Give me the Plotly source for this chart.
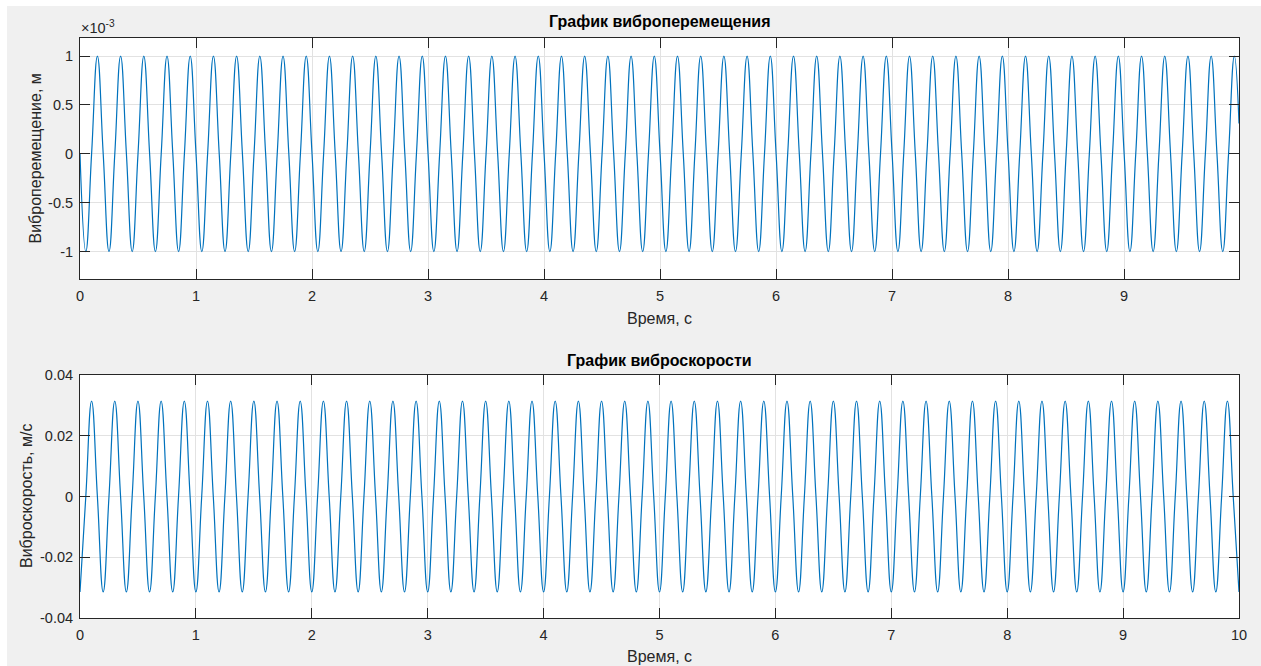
import plotly.graph_objects as go

# ---------------- data ----------------
# key sample instants: zero crossings and extrema, every 0.05 s
time_s = [
    0.00, 0.05, 0.10, 0.15, 0.20, 0.25, 0.30, 0.35, 0.40, 0.45, 0.50, 0.55, 0.60, 0.65, 0.70, 0.75, 0.80, 0.85, 0.90, 0.95,
    1.00, 1.05, 1.10, 1.15, 1.20, 1.25, 1.30, 1.35, 1.40, 1.45, 1.50, 1.55, 1.60, 1.65, 1.70, 1.75, 1.80, 1.85, 1.90, 1.95,
    2.00, 2.05, 2.10, 2.15, 2.20, 2.25, 2.30, 2.35, 2.40, 2.45, 2.50, 2.55, 2.60, 2.65, 2.70, 2.75, 2.80, 2.85, 2.90, 2.95,
    3.00, 3.05, 3.10, 3.15, 3.20, 3.25, 3.30, 3.35, 3.40, 3.45, 3.50, 3.55, 3.60, 3.65, 3.70, 3.75, 3.80, 3.85, 3.90, 3.95,
    4.00, 4.05, 4.10, 4.15, 4.20, 4.25, 4.30, 4.35, 4.40, 4.45, 4.50, 4.55, 4.60, 4.65, 4.70, 4.75, 4.80, 4.85, 4.90, 4.95,
    5.00, 5.05, 5.10, 5.15, 5.20, 5.25, 5.30, 5.35, 5.40, 5.45, 5.50, 5.55, 5.60, 5.65, 5.70, 5.75, 5.80, 5.85, 5.90, 5.95,
    6.00, 6.05, 6.10, 6.15, 6.20, 6.25, 6.30, 6.35, 6.40, 6.45, 6.50, 6.55, 6.60, 6.65, 6.70, 6.75, 6.80, 6.85, 6.90, 6.95,
    7.00, 7.05, 7.10, 7.15, 7.20, 7.25, 7.30, 7.35, 7.40, 7.45, 7.50, 7.55, 7.60, 7.65, 7.70, 7.75, 7.80, 7.85, 7.90, 7.95,
    8.00, 8.05, 8.10, 8.15, 8.20, 8.25, 8.30, 8.35, 8.40, 8.45, 8.50, 8.55, 8.60, 8.65, 8.70, 8.75, 8.80, 8.85, 8.90, 8.95,
    9.00, 9.05, 9.10, 9.15, 9.20, 9.25, 9.30, 9.35, 9.40, 9.45, 9.50, 9.55, 9.60, 9.65, 9.70, 9.75, 9.80, 9.85, 9.90, 9.95,
]

# displacement, in units of 1e-3 m
disp_e3 = [
    0, -1, 0, 1, 0, -1, 0, 1, 0, -1, 0, 1, 0, -1, 0, 1, 0, -1, 0, 1,
    0, -1, 0, 1, 0, -1, 0, 1, 0, -1, 0, 1, 0, -1, 0, 1, 0, -1, 0, 1,
    0, -1, 0, 1, 0, -1, 0, 1, 0, -1, 0, 1, 0, -1, 0, 1, 0, -1, 0, 1,
    0, -1, 0, 1, 0, -1, 0, 1, 0, -1, 0, 1, 0, -1, 0, 1, 0, -1, 0, 1,
    0, -1, 0, 1, 0, -1, 0, 1, 0, -1, 0, 1, 0, -1, 0, 1, 0, -1, 0, 1,
    0, -1, 0, 1, 0, -1, 0, 1, 0, -1, 0, 1, 0, -1, 0, 1, 0, -1, 0, 1,
    0, -1, 0, 1, 0, -1, 0, 1, 0, -1, 0, 1, 0, -1, 0, 1, 0, -1, 0, 1,
    0, -1, 0, 1, 0, -1, 0, 1, 0, -1, 0, 1, 0, -1, 0, 1, 0, -1, 0, 1,
    0, -1, 0, 1, 0, -1, 0, 1, 0, -1, 0, 1, 0, -1, 0, 1, 0, -1, 0, 1,
    0, -1, 0, 1, 0, -1, 0, 1, 0, -1, 0, 1, 0, -1, 0, 1, 0, -1, 0, 1,
]
disp_last_t = 9.99
disp_last_v = 0.31

# velocity, m/s
vel_ms = [
    -0.0314, 0, 0.0314, 0, -0.0314, 0, 0.0314, 0, -0.0314, 0, 0.0314, 0, -0.0314, 0, 0.0314, 0, -0.0314, 0, 0.0314, 0,
    -0.0314, 0, 0.0314, 0, -0.0314, 0, 0.0314, 0, -0.0314, 0, 0.0314, 0, -0.0314, 0, 0.0314, 0, -0.0314, 0, 0.0314, 0,
    -0.0314, 0, 0.0314, 0, -0.0314, 0, 0.0314, 0, -0.0314, 0, 0.0314, 0, -0.0314, 0, 0.0314, 0, -0.0314, 0, 0.0314, 0,
    -0.0314, 0, 0.0314, 0, -0.0314, 0, 0.0314, 0, -0.0314, 0, 0.0314, 0, -0.0314, 0, 0.0314, 0, -0.0314, 0, 0.0314, 0,
    -0.0314, 0, 0.0314, 0, -0.0314, 0, 0.0314, 0, -0.0314, 0, 0.0314, 0, -0.0314, 0, 0.0314, 0, -0.0314, 0, 0.0314, 0,
    -0.0314, 0, 0.0314, 0, -0.0314, 0, 0.0314, 0, -0.0314, 0, 0.0314, 0, -0.0314, 0, 0.0314, 0, -0.0314, 0, 0.0314, 0,
    -0.0314, 0, 0.0314, 0, -0.0314, 0, 0.0314, 0, -0.0314, 0, 0.0314, 0, -0.0314, 0, 0.0314, 0, -0.0314, 0, 0.0314, 0,
    -0.0314, 0, 0.0314, 0, -0.0314, 0, 0.0314, 0, -0.0314, 0, 0.0314, 0, -0.0314, 0, 0.0314, 0, -0.0314, 0, 0.0314, 0,
    -0.0314, 0, 0.0314, 0, -0.0314, 0, 0.0314, 0, -0.0314, 0, 0.0314, 0, -0.0314, 0, 0.0314, 0, -0.0314, 0, 0.0314, 0,
    -0.0314, 0, 0.0314, 0, -0.0314, 0, 0.0314, 0, -0.0314, 0, 0.0314, 0, -0.0314, 0, 0.0314, 0, -0.0314, 0, 0.0314, 0,
]
vel_last_t = 10.0
vel_last_v = -0.0314

x_ticks_top = [0, 1, 2, 3, 4, 5, 6, 7, 8, 9]
x_ticks_bot = [0, 1, 2, 3, 4, 5, 6, 7, 8, 9, 10]
y_ticks_top = [-1, -0.5, 0, 0.5, 1]
y_ticks_top_text = ["-1", "-0.5", "0", "0.5", "1"]
y_ticks_bot = [-0.04, -0.02, 0, 0.02, 0.04]
y_ticks_bot_text = ["-0.04", "-0.02", "0", "0.02", "0.04"]

title_top = "График виброперемещения"
title_bot = "График виброскорости"
xlabel = "Время, с"
ylabel_top = "Виброперемещение, м"
ylabel_bot = "Виброскорость, м/с"

# ---------------- layout geometry ----------------
W, H = 1261, 666
L, R, T, B = 80, 22, 38, 48
PW, PH = W - L - R, H - T - B


def px(x):
    return (x - L) / PW


def py(y):
    return (H - B - y) / PH


FONT = "Liberation Sans, Arial, Helvetica, sans-serif"
TXT = "#262626"
LINE = "#0072BD"
GRID = "#e2e2e2"
TICK_SIZE = 14.5
LABEL_SIZE = 16
TITLE_SIZE = 16

fig = go.Figure()
fig.add_trace(go.Scatter(
    x=time_s + [disp_last_t], y=disp_e3 + [disp_last_v],
    mode="lines", line=dict(color=LINE, width=1.2, shape="spline", smoothing=1.3),
    xaxis="x", yaxis="y", showlegend=False, hoverinfo="skip"))
fig.add_trace(go.Scatter(
    x=time_s + [vel_last_t], y=vel_ms + [vel_last_v],
    mode="lines", line=dict(color=LINE, width=1.2, shape="spline", smoothing=1.3),
    xaxis="x2", yaxis="y2", showlegend=False, hoverinfo="skip"))

axis_common = dict(
    showline=True, linecolor=TXT, linewidth=1, mirror="ticks",
    ticks="inside", ticklen=10, tickwidth=1, tickcolor=TXT,
    showgrid=True, gridcolor=GRID, gridwidth=1, zeroline=False,
    tickfont=dict(family=FONT, size=TICK_SIZE, color=TXT),
)

fig.update_layout(
    width=W, height=H,
    margin=dict(l=L, r=R, t=T, b=B, pad=0),
    paper_bgcolor="#f0f0f0", plot_bgcolor="white",
    xaxis=dict(domain=[0, 1], anchor="y", range=[0, 9.99], tickmode="array",
               tickvals=x_ticks_top, ticklabelstandoff=4, **axis_common),
    yaxis=dict(domain=[py(279), 1], anchor="x", range=[-1.28, 1.185], tickmode="array",
               tickvals=y_ticks_top, ticktext=y_ticks_top_text, ticklabelstandoff=3, **axis_common),
    xaxis2=dict(domain=[0, 1], anchor="y2", range=[0, 10], tickmode="array",
                tickvals=x_ticks_bot, ticklabelstandoff=4, **axis_common),
    yaxis2=dict(domain=[0, py(375)], anchor="x2", range=[-0.04, 0.04], tickmode="array",
                tickvals=y_ticks_bot, ticktext=y_ticks_bot_text, ticklabelstandoff=3, **axis_common),
)

ann = []
def add_text(text, x, y, size=LABEL_SIZE, bold=False, angle=0, xanchor="center"):
    ann.append(dict(
        text=f"<b>{text}</b>" if bold else text,
        x=px(x), y=py(y), xref="paper", yref="paper",
        xanchor=xanchor, yanchor="middle", showarrow=False, textangle=angle,
        font=dict(family=FONT, size=size, color="#000000" if bold else TXT)))

add_text(title_top, 659.5, 22, size=TITLE_SIZE, bold=True)
add_text(title_bot, 659.5, 360, size=TITLE_SIZE, bold=True)
add_text(xlabel, 659.5, 318)
add_text(xlabel, 659.5, 656)
add_text(ylabel_top, 35, 158.5, angle=-90)
add_text(ylabel_bot, 26.5, 496.5, angle=-90)
add_text("×10<sup>-3</sup>", 79, 27, size=TICK_SIZE, xanchor="left")
fig.update_layout(annotations=ann)

# thin white border at top and left of the figure window
fig.update_layout(shapes=[
    dict(type="rect", xref="paper", yref="paper", x0=px(0), x1=px(W), y0=py(6), y1=py(0),
         fillcolor="white", line=dict(width=0), layer="below"),
    dict(type="rect", xref="paper", yref="paper", x0=px(0), x1=px(7), y0=py(H), y1=py(0),
         fillcolor="white", line=dict(width=0), layer="below"),
])

fig.write_html("out.html")
